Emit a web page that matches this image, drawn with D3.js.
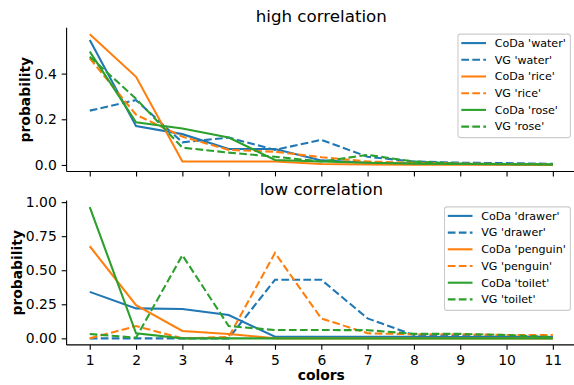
<!DOCTYPE html>
<html>
<head>
<meta charset="utf-8">
<script src="https://cdn.jsdelivr.net/npm/d3@7"></script>
<style>
  body { margin: 0; background: #fff; }
  svg { display: block; font-family: "DejaVu Sans", sans-serif; }
</style>
</head>
<body>
<div id="chart"></div>
<script>
// x categories (number of colors)
const colors = [1, 2, 3, 4, 5, 6, 7, 8, 9, 10, 11];

// high correlation
const codaWater = [0.547, 0.17, 0.135, 0.07, 0.07, 0.02, 0.01, 0.006, 0.004, 0.002, 0.001];
const vgWater   = [0.238, 0.284, 0.099, 0.12, 0.066, 0.11, 0.036, 0.015, 0.01, 0.008, 0.005];
const codaRice  = [0.572, 0.386, 0.015, 0.015, 0.015, 0.004, 0.002, 0.001, 0.001, 0.001, 0.0];
const vgRice    = [0.467, 0.22, 0.124, 0.066, 0.058, 0.034, 0.015, 0.01, 0.006, 0.004, 0.002];
const codaRose  = [0.496, 0.187, 0.16, 0.12, 0.022, 0.015, 0.01, 0.006, 0.004, 0.003, 0.002];
const vgRose    = [0.474, 0.29, 0.076, 0.054, 0.036, 0.015, 0.044, 0.015, 0.006, 0.004, 0.002];

// low correlation
const codaDrawer  = [0.341, 0.22, 0.215, 0.171, 0.012, 0.012, 0.012, 0.012, 0.01, 0.01, 0.01];
const vgDrawer    = [0.0, 0.0, 0.0, 0.0, 0.43, 0.43, 0.146, 0.024, 0.02, 0.015, 0.01];
const codaPenguin = [0.676, 0.244, 0.054, 0.032, 0.0, 0.0, 0.0, 0.0, 0.0, 0.0, 0.0];
const vgPenguin   = [0.0, 0.09, 0.0, 0.01, 0.627, 0.146, 0.037, 0.03, 0.03, 0.025, 0.024];
const codaToilet  = [0.963, 0.037, 0.0, 0.0, 0.0, 0.0, 0.0, 0.0, 0.0, 0.0, 0.0];
const vgToilet    = [0.032, 0.005, 0.61, 0.09, 0.061, 0.061, 0.06, 0.033, 0.033, 0.024, 0.01];

const topYTicks = [0.0, 0.2, 0.4];
const bottomYTicks = [0.0, 0.25, 0.5, 0.75, 1.0];

const blue = '#1f77b4', orange = '#ff7f0e', green = '#2ca02c';

const panels = [
  {
    title: 'high correlation', top: 27.8, bottom: 171.5, yTicks: topYTicks, fmt: d3.format('.1f'),
    showX: false, labelX: 29.5,
    series: [
      { label: "CoDa 'water'", values: codaWater, color: blue, dashed: false },
      { label: "VG 'water'", values: vgWater, color: blue, dashed: true },
      { label: "CoDa 'rice'", values: codaRice, color: orange, dashed: false },
      { label: "VG 'rice'", values: vgRice, color: orange, dashed: true },
      { label: "CoDa 'rose'", values: codaRose, color: green, dashed: false },
      { label: "VG 'rose'", values: vgRose, color: green, dashed: true }
    ]
  },
  {
    title: 'low correlation', top: 200.6, bottom: 344.9, yTicks: bottomYTicks, fmt: d3.format('.2f'),
    showX: true, labelX: 21.5,
    series: [
      { label: "CoDa 'drawer'", values: codaDrawer, color: blue, dashed: false },
      { label: "VG 'drawer'", values: vgDrawer, color: blue, dashed: true },
      { label: "CoDa 'penguin'", values: codaPenguin, color: orange, dashed: false },
      { label: "VG 'penguin'", values: vgPenguin, color: orange, dashed: true },
      { label: "CoDa 'toilet'", values: codaToilet, color: green, dashed: false },
      { label: "VG 'toilet'", values: vgToilet, color: green, dashed: true }
    ]
  }
];

const width = 574, height = 385;
const left = 66.6, right = 576;

const svg = d3.select('#chart').append('svg')
  .attr('width', width)
  .attr('height', height);

// x scale shared (matplotlib-like 5% margins)
const x = d3.scaleLinear()
  .domain([0.5, 11.5])
  .range([left, right]);

panels.forEach(p => {
  const all = p.series.flatMap(s => s.values);
  const lo = d3.min(all), hi = d3.max(all);
  const pad = (hi - lo) * 0.05;
  const y = d3.scaleLinear()
    .domain([lo - pad, hi + pad])
    .range([p.bottom, p.top]);

  const g = svg.append('g');

  // lines
  const line = d3.line()
    .x((d, i) => x(colors[i]))
    .y(d => y(d));

  g.append('defs').append('clipPath')
    .attr('id', 'clip-' + p.top)
    .append('rect')
    .attr('x', left).attr('y', p.top)
    .attr('width', right - left).attr('height', p.bottom - p.top);

  const lines = g.append('g').attr('clip-path', `url(#clip-${p.top})`);
  p.series.forEach(s => {
    lines.append('path')
      .datum(s.values)
      .attr('fill', 'none')
      .attr('stroke', s.color)
      .attr('stroke-width', 2.08)
      .attr('stroke-dasharray', s.dashed ? '7.7,3.3' : null)
      .attr('d', line);
  });

  // X axis
  const xAxis = g.append('g')
    .attr('transform', `translate(0,${p.bottom})`)
    .call(d3.axisBottom(x).tickValues(colors)
      .tickFormat(p.showX ? d3.format('d') : () => '')
      .tickSize(4.9).tickPadding(4.9));
  xAxis.select('.domain').attr('stroke-width', 1.1).attr('d', `M${left},0H${right}`);

  // Y axis
  const yAxis = g.append('g')
    .attr('transform', `translate(${left},0)`)
    .call(d3.axisLeft(y).tickValues(p.yTicks).tickFormat(p.fmt)
      .tickSize(4.9).tickPadding(4.9));
  yAxis.select('.domain').attr('stroke-width', 1.1).attr('d', `M0,${p.top}V${p.bottom}`);

  [xAxis, yAxis].forEach(a => {
    a.selectAll('.tick line').attr('stroke', '#000').attr('stroke-width', 1.1);
    a.selectAll('.tick text').attr('font-size', 13.9).attr('fill', '#000')
      .attr('font-family', '"DejaVu Sans", sans-serif');
    a.select('.domain').attr('stroke', '#000');
  });

  // title
  g.append('text')
    .attr('x', (left + right) / 2)
    .attr('y', p.top - 6)
    .attr('text-anchor', 'middle')
    .attr('font-size', 16.7)
    .text(p.title);

  // y label
  g.append('text')
    .attr('transform', `translate(${p.labelX},${(p.top + p.bottom) / 2}) rotate(-90)`)
    .attr('text-anchor', 'middle')
    .attr('font-size', 13.9)
    .attr('font-weight', 'bold')
    .text('probability');

  // legend
  const fs = 11.1, rowH = 16.7;
  const leg = g.append('g');
  const box = leg.append('rect');
  const texts = [];
  p.series.forEach((s, i) => {
    texts.push(leg.append('text')
      .attr('y', 0)
      .attr('font-size', fs)
      .attr('dy', '0.35em')
      .text(s.label));
  });
  const maxW = d3.max(texts, t => t.node().getComputedTextLength());
  const boxW = 36.7 + maxW + 4.6;
  const boxX = right - 5.6 - boxW;
  const boxY = p.top + 6.3;
  const boxH = 9 + 5 * rowH + 11;
  box.attr('x', boxX).attr('y', boxY).attr('width', boxW).attr('height', boxH)
    .attr('rx', 2.5)
    .attr('fill', '#fff').attr('fill-opacity', 0.8)
    .attr('stroke', '#cccccc').attr('stroke-width', 1.1);
  p.series.forEach((s, i) => {
    const cy = boxY + 9 + i * rowH;
    leg.append('line')
      .attr('x1', boxX + 3.3).attr('x2', boxX + 28)
      .attr('y1', cy).attr('y2', cy)
      .attr('stroke', s.color)
      .attr('stroke-width', 2.08)
      .attr('stroke-dasharray', s.dashed ? '7.7,3.3' : null);
    texts[i].attr('x', boxX + 36.7).attr('y', cy);
  });
});

// x label
svg.append('text')
  .attr('x', (left + right) / 2)
  .attr('y', 380)
  .attr('text-anchor', 'middle')
  .attr('font-size', 13.9)
  .attr('font-weight', 'bold')
  .text('colors');
</script>
</body>
</html>
